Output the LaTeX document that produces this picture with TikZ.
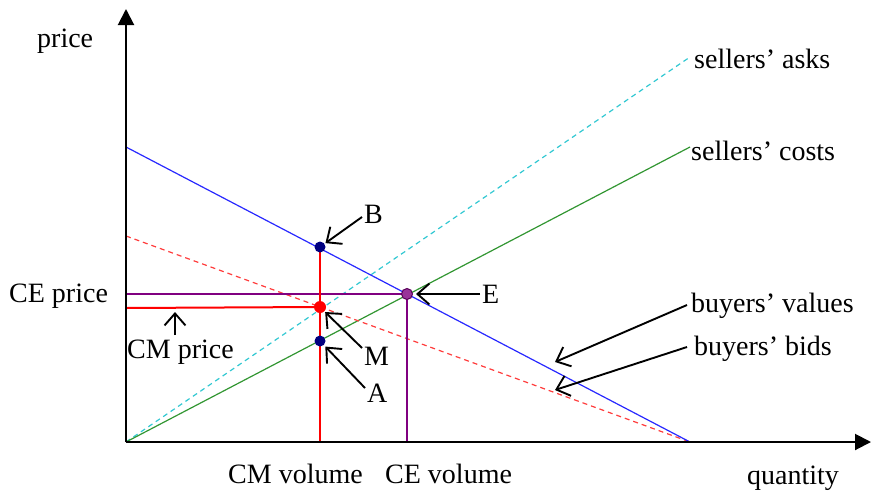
\documentclass[tikz,border=0pt]{standalone}
\usepackage{fontspec}
\setmainfont{Liberation Serif}
\usetikzlibrary{arrows.meta}
\definecolor{cblue}{RGB}{40,40,255}
\definecolor{cgreen}{RGB}{50,150,50}
\definecolor{ccyan}{RGB}{50,200,210}
\definecolor{cdred}{RGB}{255,60,60}
\definecolor{cred}{RGB}{255,0,0}
\definecolor{cpurple}{RGB}{128,0,128}
\definecolor{cnavy}{RGB}{0,0,128}
\begin{document}
\begin{tikzpicture}[x=1pt,y=-1pt,
  lbl/.style={inner sep=0pt, anchor=base west, font=\fontsize{28}{31}\selectfont},
  callout/.style={-{Straight Barb[length=12pt,width=21pt]}, line width=1.9pt, black},
  axis/.style={line width=2pt, -{Triangle[length=16pt,width=16pt]}},
  dot/.style={circle, inner sep=0pt, minimum size=#1},
  thin curve/.style={line width=1.2pt},
  dashcurve/.style={line width=1.2pt, dash pattern=on 5pt off 4pt},
  level/.style={line width=2pt}]
\useasboundingbox (0,0) rectangle (872,493);

% key coordinates
\coordinate (O) at (126,442);
\coordinate (Ytop) at (126,9);
\coordinate (Xend) at (871,442);
\coordinate (bv0) at (126,147);
\coordinate (bv1) at (690,442);
\coordinate (bb0) at (126,236);
\coordinate (bb1) at (690,442);
\coordinate (sc1) at (690,147);
\coordinate (sa1) at (690,57);
\coordinate (CEp) at (126,294);
\coordinate (CMp) at (126,308);
\coordinate (CEv) at (407,442);
\coordinate (CMv) at (320,442);

% supply / demand curves
\draw[dashcurve, ccyan] (O) -- (sa1);
\draw[thin curve, cgreen] (O) -- (sc1);
\draw[dashcurve, cdred] (bb0) -- (bb1);
\draw[thin curve, cblue] (bv0) -- (bv1);

% points (positions)
\coordinate (B) at (320,247);
\coordinate (M) at (320,307);
\coordinate (A) at (320,341);
\coordinate (E) at (407,294);

% price / volume levels
\draw[level, cpurple] (CEp) -- (E) -- (CEv);
\draw[level, cred] (CMp) -- (M);
\draw[level, cred] (B) -- (CMv);
\node[dot=11pt, fill=cnavy] (Bd) at (B) {};
\node[dot=12pt, fill=cred] (Md) at (M) {};
\node[dot=11pt, fill=cnavy] (Ad) at (A) {};
\node[dot=11pt, fill=cpurple!80!white, draw=cpurple!70!black, line width=1pt] (Ed) at (E) {};

% axes
\draw[axis] (O) -- (Ytop);
\draw[axis] (O) -- (Xend);

% labels
\node[lbl] (price) at (37,47) {price};
\node[lbl] (qty) at (747,484) {quantity};
\node[lbl] (cepr) at (9,302) {CE price};
\node[lbl] (cmpr) at (127,358) {CM price};
\node[lbl] (cmvol) at (228,483) {CM volume};
\node[lbl] (cevol) at (385,483) {CE volume};
\node[lbl] (asks) at (694,68) {sellers’ asks};
\node[lbl] (costs) at (691,160) {sellers’ costs};
\node[lbl] (values) at (691,312) {buyers’ values};
\node[lbl] (bids) at (694,355) {buyers’ bids};
\node[lbl] (Bl) at (364,223) {B};
\node[lbl] (Ml) at (364,365) {M};
\node[lbl] (Al) at (367,402) {A};
\node[lbl] (El) at (482,303) {E};

% callout arrows
\coordinate (Bt) at (362,217);
\coordinate (Mt) at (362,348);
\coordinate (At) at (365,388);
\coordinate (Et) at (480,294);
\coordinate (CMt) at (175,335);
\coordinate (CMh) at (175,312);
\coordinate (Vt) at (687,305);
\coordinate (Vh) at (555,362);
\coordinate (Dt) at (687,347);
\coordinate (Dh) at (555,390);
\draw[callout, shorten >=1pt] (Bt) -- (Bd);
\draw[callout, shorten >=1pt] (Mt) -- (Md);
\draw[callout, shorten >=2pt] (At) -- (Ad);
\draw[callout, shorten >=3pt] (Et) -- (Ed);
\draw[callout] (CMt) -- (CMh);
\draw[callout] (Vt) -- (Vh);
\draw[callout] (Dt) -- (Dh);
\end{tikzpicture}
\end{document}
